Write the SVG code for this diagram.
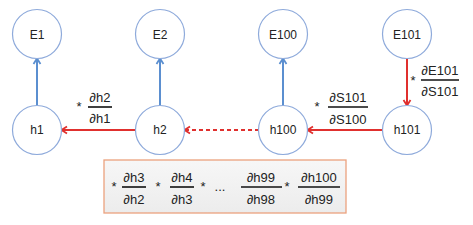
<svg xmlns="http://www.w3.org/2000/svg" width="473" height="225" viewBox="0 0 473 225">
<defs>
<style>
.node circle{fill:#fff;stroke:#8eaadb;stroke-width:1.2}
.node text{font-family:"Liberation Sans",Arial,sans-serif;font-size:12px;fill:#222;text-anchor:middle;dominant-baseline:central}
.f{font-family:"Liberation Sans",Arial,sans-serif;font-size:13px;fill:#222;text-anchor:middle;dominant-baseline:central}
.bl{stroke:#5b8fd0;stroke-width:2;fill:none}
.rd{stroke:#e0302e;stroke-width:2;fill:none}
.fl{stroke:#111;stroke-width:1.6}
</style>
<marker id="ab" markerWidth="10" markerHeight="10" refX="7" refY="5" orient="auto" markerUnits="userSpaceOnUse">
<path d="M2,1.5 L7.5,5 L2,8.5" fill="none" stroke="#5b8fd0" stroke-width="1.8"/>
</marker>
<marker id="ar" markerWidth="10" markerHeight="10" refX="7" refY="5" orient="auto" markerUnits="userSpaceOnUse">
<path d="M2,1.5 L7.5,5 L2,8.5" fill="none" stroke="#e0302e" stroke-width="1.8"/>
</marker>
<linearGradient id="bg" x1="0" y1="0" x2="0" y2="1">
<stop offset="0" stop-color="#f7f7f7"/>
<stop offset="1" stop-color="#ececec"/>
</linearGradient>
</defs>
<rect width="473" height="225" fill="#fff"/>
<g id="connectors">
<line class="bl" x1="37" y1="106" x2="37" y2="59" marker-end="url(#ab)"/>
<line class="bl" x1="160" y1="106" x2="160" y2="59" marker-end="url(#ab)"/>
<line class="bl" x1="283" y1="106" x2="283" y2="59" marker-end="url(#ab)"/>
<line class="rd" x1="407" y1="58" x2="407" y2="105" marker-end="url(#ar)"/>
<line class="rd" x1="136" y1="130" x2="62" y2="130" marker-end="url(#ar)"/>
<line class="rd" x1="259" y1="130" x2="185" y2="130" stroke-dasharray="4,3" marker-end="url(#ar)"/>
<line class="rd" x1="383" y1="130" x2="308" y2="130" marker-end="url(#ar)"/>
</g>
<g id="E1" class="node"><circle cx="37" cy="34" r="24.5"/><text x="37" y="35">E1</text></g>
<g id="E2" class="node"><circle cx="160" cy="34" r="24.5"/><text x="160" y="35">E2</text></g>
<g id="E100" class="node"><circle cx="283" cy="34" r="24.5"/><text x="283" y="35">E100</text></g>
<g id="E101" class="node"><circle cx="407" cy="34" r="24.5"/><text x="407" y="35">E101</text></g>
<g id="h1" class="node"><circle cx="37" cy="130" r="24.5"/><text x="37" y="130">h1</text></g>
<g id="h2" class="node"><circle cx="160" cy="130" r="24.5"/><text x="160" y="130">h2</text></g>
<g id="h100" class="node"><circle cx="283" cy="130" r="24.5"/><text x="283" y="130">h100</text></g>
<g id="h101" class="node"><circle cx="407" cy="130" r="24.5"/><text x="407" y="130">h101</text></g>
<g id="label-h2h1">
<text class="f" x="79" y="106">*</text>
<text class="f" x="100" y="97">∂h2</text>
<line class="fl" x1="88" y1="107" x2="112" y2="107"/>
<text class="f" x="100" y="118">∂h1</text>
</g>
<g id="label-S">
<text class="f" x="317" y="106">*</text>
<text class="f" x="348" y="97">∂S101</text>
<line class="fl" x1="328" y1="107" x2="368" y2="107"/>
<text class="f" x="348" y="119">∂S100</text>
</g>
<g id="label-E">
<text class="f" x="413" y="80">*</text>
<text class="f" x="440" y="70">∂E101</text>
<line class="fl" x1="421" y1="80" x2="459" y2="80"/>
<text class="f" x="440" y="91">∂S101</text>
</g>
<g id="chain">
<rect x="104" y="160" width="242" height="53" fill="url(#bg)" stroke="#eba27e" stroke-width="1.3"/>
<text class="f" x="114" y="186">*</text>
<text class="f" x="134" y="177">∂h3</text>
<line class="fl" x1="122" y1="187" x2="146" y2="187"/>
<text class="f" x="134" y="199">∂h2</text>
<text class="f" x="158" y="186">*</text>
<text class="f" x="182" y="177">∂h4</text>
<line class="fl" x1="170" y1="187" x2="194" y2="187"/>
<text class="f" x="182" y="199">∂h3</text>
<text class="f" x="203" y="186">*</text>
<text class="f" x="220" y="186">...</text>
<text class="f" x="261" y="177">∂h99</text>
<line class="fl" x1="241" y1="187" x2="282" y2="187"/>
<text class="f" x="261" y="199">∂h98</text>
<text class="f" x="287" y="186">*</text>
<text class="f" x="319" y="177">∂h100</text>
<line class="fl" x1="298" y1="187" x2="340" y2="187"/>
<text class="f" x="319" y="199">∂h99</text>
</g>
</svg>
